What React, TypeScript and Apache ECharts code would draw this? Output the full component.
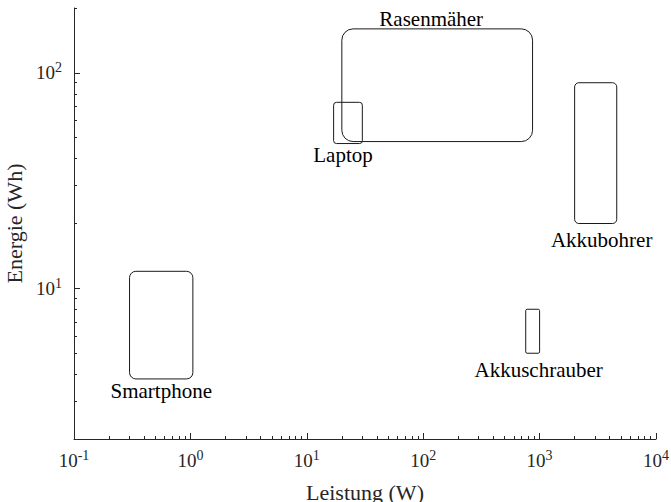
import React, { useEffect, useRef } from "react";
import * as echarts from "echarts";

// Device categories and their ranges (power in W, energy in Wh)
const devices = ["Smartphone", "Laptop", "Rasenmäher", "Akkuschrauber", "Akkubohrer"];
const powerMin = [0.3, 17, 20, 760, 2000];
const powerMax = [1.05, 30, 870, 1000, 4600];
const energyMin = [3.8, 47, 48, 5, 20];
const energyMax = [12, 73, 160, 8, 90];

// Axis ranges & ticks
const xMin = 0.1;
const xMax = 10000;
const yMin = 2;
const yMax = 200;
const xMajorTicks = [0.1, 1, 10, 100, 1000, 10000];
const yMajorTicks = [10, 100];
const xMinorTicks = [0.2, 0.3, 0.4, 0.5, 0.6, 0.7, 0.8, 0.9, 2, 3, 4, 5, 6, 7, 8, 9, 20, 30, 40, 50, 60, 70, 80, 90, 200, 300, 400, 500, 600, 700, 800, 900, 2000, 3000, 4000, 5000, 6000, 7000, 8000, 9000];
const yMinorTicks = [2, 3, 4, 5, 6, 7, 8, 9, 20, 30, 40, 50, 60, 70, 80, 90, 200];

// label placement (style): side of box and small pixel nudge
const labelSide = ["bottom", "bottom", "top", "bottom", "bottom"];
const labelNudgeX = [0, -5, -6, 6, 6];
const labelNudgeY = [2, 1, 1, 6, 6];

const FONT = "'Liberation Serif', 'Times New Roman', serif";
const AXIS_COLOR = "#262626";

const tickFormatter = (value: number) => {
  const e = Math.round(Math.log10(value));
  if (Math.abs(Math.pow(10, e) - value) > 1e-9 * value) return "";
  return `{b|10}{s|${e}}`;
};

const richLabel = {
  b: { fontSize: 19, fontFamily: FONT, color: AXIS_COLOR, lineHeight: 24 },
  s: { fontSize: 14, fontFamily: FONT, color: AXIS_COLOR, lineHeight: 14, verticalAlign: "top" },
};

export default function App() {
  const ref = useRef<HTMLDivElement>(null);

  useEffect(() => {
    if (!ref.current) return;
    const chart = echarts.init(ref.current, undefined, { renderer: "svg" });

    const data = devices.map((_, i) => [powerMin[i], powerMax[i], energyMin[i], energyMax[i]]);

    const baseX = {
      type: "log",
      logBase: 10,
      min: xMin,
      max: xMax,
      position: "bottom",
      splitLine: { show: false },
    };
    const baseY = {
      type: "log",
      logBase: 10,
      min: yMin,
      max: yMax,
      position: "left",
      splitLine: { show: false },
    };

    chart.setOption({
      animation: false,
      backgroundColor: "#ffffff",
      textStyle: { fontFamily: FONT },
      grid: { left: 74, right: 15, top: 8, bottom: 63, containLabel: false, outerBoundsMode: "none" },
      xAxis: [
        {
          ...baseX,
          name: "Leistung (W)",
          nameLocation: "middle",
          nameGap: 42,
          nameTextStyle: { fontFamily: FONT, fontSize: 22, color: AXIS_COLOR },
          axisLine: { show: true, lineStyle: { color: AXIS_COLOR, width: 1 } },
          axisTick: { show: true, inside: true, length: 6, customValues: xMajorTicks, lineStyle: { color: AXIS_COLOR } },
          axisLabel: { show: true, margin: 9, fontFamily: FONT, formatter: tickFormatter, rich: richLabel, customValues: xMajorTicks },
        },
        {
          ...baseX,
          axisLine: { show: false },
          axisTick: { show: true, inside: true, length: 3, customValues: xMinorTicks, lineStyle: { color: AXIS_COLOR } },
          axisLabel: { show: false },
        },
      ],
      yAxis: [
        {
          ...baseY,
          name: "Energie (Wh)",
          nameLocation: "middle",
          nameGap: 48,
          nameRotate: 90,
          nameTextStyle: { fontFamily: FONT, fontSize: 22, color: AXIS_COLOR },
          axisLine: { show: true, lineStyle: { color: AXIS_COLOR, width: 1 } },
          axisTick: { show: true, inside: true, length: 6, customValues: yMajorTicks, lineStyle: { color: AXIS_COLOR } },
          axisLabel: { show: true, margin: 12, fontFamily: FONT, formatter: tickFormatter, rich: richLabel, customValues: yMajorTicks },
        },
        {
          ...baseY,
          axisLine: { show: false },
          axisTick: { show: true, inside: true, length: 3, customValues: yMinorTicks, lineStyle: { color: AXIS_COLOR } },
          axisLabel: { show: false },
        },
      ],
      series: [
        {
          type: "custom",
          xAxisIndex: 0,
          yAxisIndex: 0,
          clip: false,
          encode: { x: [0, 1], y: [2, 3] },
          data,
          renderItem: (params: any, api: any) => {
            const i = params.dataIndex;
            const p0 = api.coord([api.value(0), api.value(3)]);
            const p1 = api.coord([api.value(1), api.value(2)]);
            const w = p1[0] - p0[0];
            const h = p1[1] - p0[1];
            const r = 0.1 * Math.min(w, h);
            const cx = (p0[0] + p1[0]) / 2 + labelNudgeX[i];
            const top = labelSide[i] === "top";
            return {
              type: "group",
              children: [
                {
                  type: "rect",
                  shape: { x: p0[0], y: p0[1], width: w, height: h, r },
                  style: { fill: "none", stroke: "#1a1a1a", lineWidth: 1 },
                },
                {
                  type: "text",
                  x: cx,
                  y: top ? p0[1] + labelNudgeY[i] : p1[1] + labelNudgeY[i],
                  style: {
                    text: devices[i],
                    fontFamily: FONT,
                    fontSize: 21,
                    fill: "#000",
                    align: "center",
                    verticalAlign: top ? "bottom" : "top",
                  },
                },
              ],
            };
          },
        },
      ],
    });

    return () => chart.dispose();
  }, []);

  return (
    <div
      ref={ref}
      style={{ position: "absolute", left: 0, top: 0, width: 671, height: 502, background: "#fff" }}
    />
  );
}
